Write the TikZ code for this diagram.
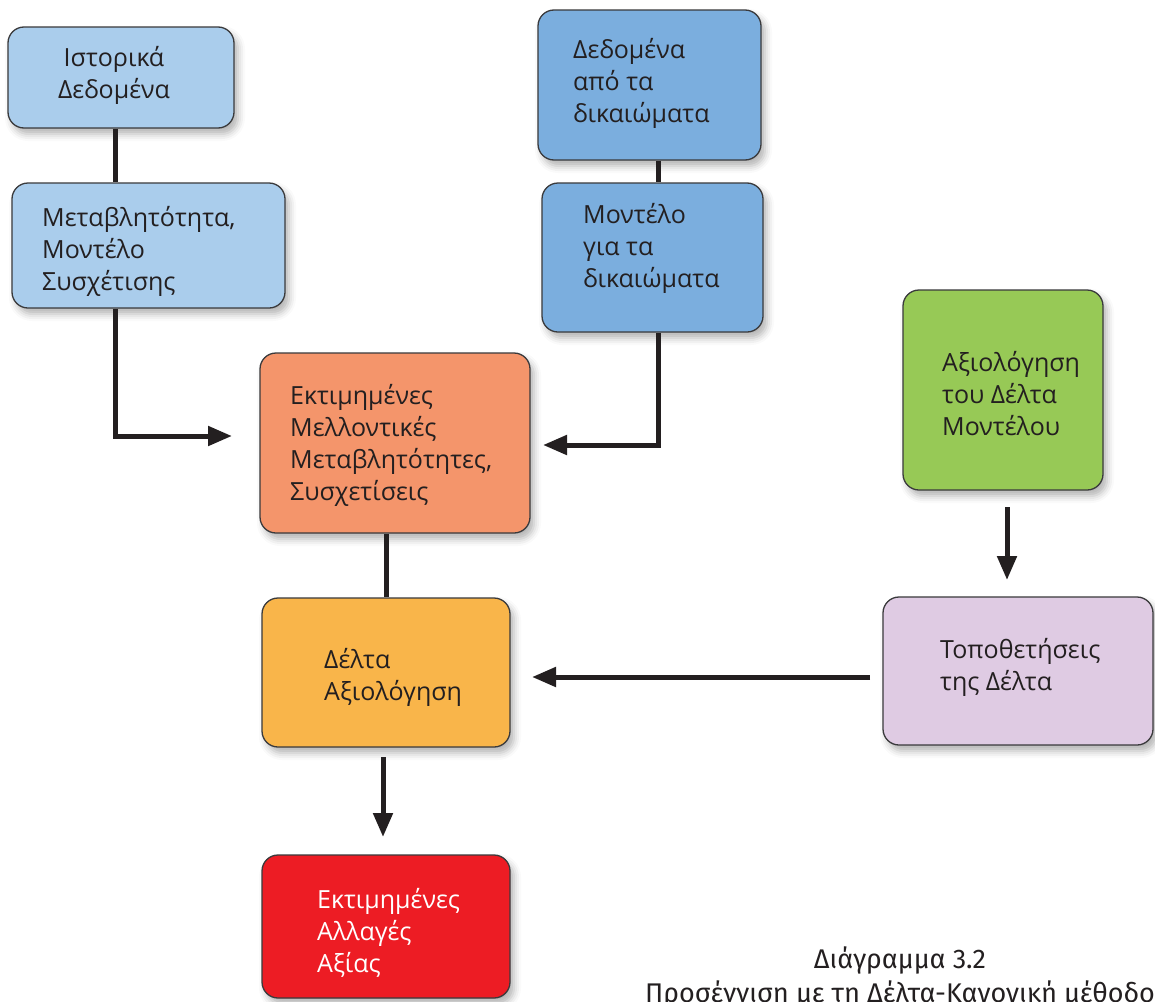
\documentclass[tikz,border=0pt]{standalone}
\usepackage{fontspec}
\setmainfont{Open Sans}
\newfontfamily\capfont{Fira Sans}
\usetikzlibrary{arrows.meta,shadows.blur}

\definecolor{ink}{HTML}{231F20}
\definecolor{edge}{HTML}{3A3A3C}
\definecolor{paleblue}{HTML}{AACDEC}
\definecolor{midblue}{HTML}{7BAEDE}
\definecolor{salmon}{HTML}{F4956B}
\definecolor{amber}{HTML}{F9B54A}
\definecolor{signalred}{HTML}{ED1C24}
\definecolor{leafgreen}{HTML}{97C956}
\definecolor{lilac}{HTML}{DFCBE3}

\tikzset{
  box/.style={draw=edge, line width=1.3pt, rounded corners=16pt,
    blur shadow={shadow xshift=4pt, shadow yshift=-6pt,
      shadow blur radius=7pt, shadow opacity=30}},
  % texts are placed by the baseline of their last line
  boxtext/.style={anchor=base west, align=left, inner sep=0pt, text=ink,
    font=\fontsize{25}{32}\selectfont},
  conn/.style={draw=ink, line width=5pt},
  arr/.style={conn, -{Triangle[length=24pt,width=19pt]}},
}

\begin{document}
\begin{tikzpicture}[x=1pt,y=-1pt]
\useasboundingbox (0,0) rectangle (1155,1001);

% anchor columns and free arrow ends
\coordinate (colA) at (115,0);
\coordinate (colB) at (658,0);
\coordinate (inA)  at (232,436);
\coordinate (inB)  at (543,445);
\coordinate (dOut) at (383,757);
\coordinate (dIn)  at (383,837);
\coordinate (gOut) at (1007,507);
\coordinate (gIn)  at (1007,580);
\coordinate (pOut) at (870,677);
\coordinate (pIn)  at (532,677);

% boxes
\node[box, fill=paleblue, minimum width=226pt, minimum height=101pt] (hist) at (121,77.5) {};
\node[box, fill=paleblue, minimum width=273pt, minimum height=125pt] (vol)  at (148.5,245.5) {};
\node[box, fill=midblue,  minimum width=223pt, minimum height=150pt] (cdat) at (649.5,85) {};
\node[box, fill=midblue,  minimum width=221pt, minimum height=149pt] (cmod) at (652.5,257.5) {};
\node[box, fill=salmon,   minimum width=270pt, minimum height=180pt] (fut)  at (395,443) {};
\node[box, fill=amber,    minimum width=248pt, minimum height=149pt] (dval) at (386,672.5) {};
\node[box, fill=signalred,minimum width=248pt, minimum height=143pt] (chg)  at (386,926.5) {};
\node[box, fill=leafgreen,minimum width=200pt, minimum height=200pt] (dchk) at (1003,390) {};
\node[box, fill=lilac,    minimum width=270pt, minimum height=148pt] (pos)  at (1018,671) {};

% box texts
\node[boxtext, anchor=base, align=center] (hist-t) at (114,98) {Ιστορικά\\Δεδομένα};
\node[boxtext] (vol-t)  at (42,290)  {Μεταβλητότητα,\\Μοντέλο\\Συσχέτισης};
\node[boxtext] (cdat-t) at (573,122) {Δεδομένα\\από τα\\δικαιώματα};
\node[boxtext] (cmod-t) at (583,287) {Μοντέλο\\για τα\\δικαιώματα};
\node[boxtext] (fut-t)  at (290,500) {Εκτιμημένες\\Μελλοντικές\\Μεταβλητότητες,\\Συσχετίσεις};
\node[boxtext] (dval-t) at (324,700) {Δέλτα\\Αξιολόγηση};
\node[boxtext, text=white] (chg-t) at (317,972) {Εκτιμημένες\\Αλλαγές\\Αξίας};
\node[boxtext] (dchk-t) at (942,435) {Αξιολόγηση\\του Δέλτα\\Μοντέλου};
\node[boxtext] (pos-t)  at (940,690) {Τοποθετήσεις\\της Δέλτα};

% connectors
\draw[conn] (hist.south -| colA) -- (vol.north -| colA);
\draw[conn] (cdat.south -| colB) -- (cmod.north -| colB);
\draw[arr]  (vol.south -| colA) |- (inA);
\draw[arr]  (cmod.south -| colB) |- (inB);
\draw[conn] (fut.south -| dval.north) -- (dval.north);
\draw[arr]  (dOut) -- (dIn);
\draw[arr]  (gOut) -- (gIn);
\draw[arr]  (pOut) -- (pIn);

% caption
\node[anchor=base, align=center, inner sep=0pt, text=ink,
  font=\capfont\fontsize{27}{34}\selectfont] (cap) at (900,1002)
  {Διάγραμμα 3.2\\Προσέγγιση με τη Δέλτα-Κανονική μέθοδο};
\end{tikzpicture}
\end{document}
